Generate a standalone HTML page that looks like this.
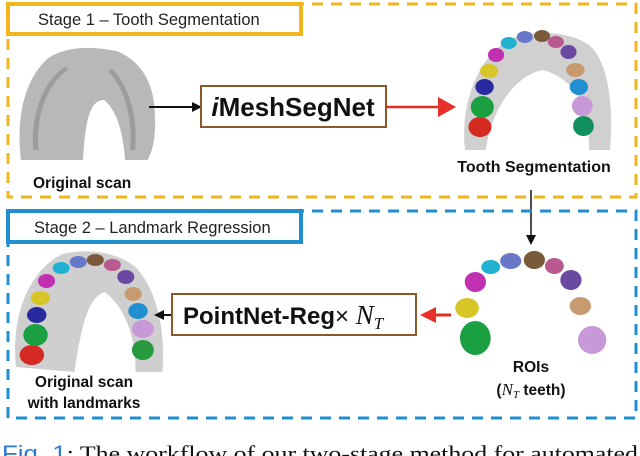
<!DOCTYPE html>
<html><head><style>
body{margin:0;background:#fff;width:640px;height:456px;overflow:hidden}
svg{display:block}
</style></head><body>
<svg width="640" height="456" viewBox="0 0 640 456" xmlns="http://www.w3.org/2000/svg">
<!-- Stage 1 -->
<rect x="8" y="4" width="628" height="193" fill="none" stroke="#f2b61d" stroke-width="3" stroke-dasharray="11,8"/>
<rect x="8" y="4" width="293" height="30" fill="#fff" stroke="#f2b61d" stroke-width="4"/>
<text x="38" y="25" font-family="Liberation Sans, sans-serif" font-size="16.5" fill="#222">Stage 1 – Tooth Segmentation</text>
<!-- Original scan arch -->
<g transform="translate(16,0) scale(1.24,1) translate(-14,0)">
<path d="M18,160 C14,120 20,80 40,58 C55,46 75,46 95,51 C110,58 122,75 125,100 C128,130 125,150 120,160 L102,160 C100,130 95,110 85,100 C75,100 70,115 68,160 Z" fill="#b8b8b8"/>
<path d="M30,150 C28,120 35,85 55,68 M108,150 C110,120 105,90 90,70" stroke="#888" stroke-width="4" fill="none" opacity=".6"/>
</g>
<text x="33" y="188" font-family="Liberation Sans, sans-serif" font-weight="bold" font-size="15.5" fill="#111">Original scan</text>
<line x1="149" y1="107" x2="194" y2="107" stroke="#111" stroke-width="2"/>
<polygon points="202,107 192,102 192,112" fill="#111"/>
<rect x="201" y="86" width="185" height="41" fill="#fff" stroke="#8b5a2b" stroke-width="2"/>
<text x="293" y="116" text-anchor="middle" font-family="Liberation Sans, sans-serif" font-weight="bold" font-size="26" fill="#111"><tspan font-style="italic">i</tspan>MeshSegNet</text>
<line x1="386" y1="107" x2="440" y2="107" stroke="#e03020" stroke-width="2.5"/>
<polygon points="456,107 438,97 438,117" fill="#e8302a"/>
<!-- Tooth segmentation -->
<g transform="translate(465,0) scale(1.15,1) translate(-382,0)">
<path d="M382,150 C378,110 390,60 420,40 C440,30 470,30 490,45 C505,60 512,100 508,150 L490,150 C490,110 480,80 450,70 C425,75 405,110 400,150 Z" fill="#d0d0d0"/>
<ellipse cx="395" cy="127" rx="10" ry="10" fill="#d42a22"/>
<ellipse cx="397" cy="107" rx="10" ry="11" fill="#1aa040"/>
<ellipse cx="399" cy="87" rx="8" ry="8" fill="#2a2aa0"/>
<ellipse cx="403" cy="71" rx="8" ry="7" fill="#d8c628"/>
<ellipse cx="409" cy="55" rx="7" ry="7" fill="#c030b0"/>
<ellipse cx="420" cy="43" rx="7" ry="6" fill="#20b0d0"/>
<ellipse cx="434" cy="37" rx="7" ry="6" fill="#6878c8"/>
<ellipse cx="449" cy="36" rx="7" ry="6" fill="#7a5a3a"/>
<ellipse cx="461" cy="42" rx="7" ry="6" fill="#b85a90"/>
<ellipse cx="472" cy="52" rx="7" ry="7" fill="#6a4aa0"/>
<ellipse cx="478" cy="70" rx="8" ry="7" fill="#c89a70"/>
<ellipse cx="481" cy="87" rx="8" ry="8" fill="#2090d0"/>
<ellipse cx="484" cy="106" rx="9" ry="10" fill="#c898d8"/>
<ellipse cx="485" cy="126" rx="9" ry="10" fill="#109060"/>
</g>
<text x="534" y="172" text-anchor="middle" font-family="Liberation Sans, sans-serif" font-weight="bold" font-size="16" fill="#111">Tooth Segmentation</text>
<!-- down arrow -->
<line x1="531" y1="190" x2="531" y2="237" stroke="#111" stroke-width="1.5"/>
<polygon points="531,245 526,235 536,235" fill="#111"/>
<!-- Stage 2 -->
<rect x="8" y="211" width="628" height="207" fill="none" stroke="#1f8fd0" stroke-width="3" stroke-dasharray="11,8"/>
<rect x="8" y="211" width="293" height="31" fill="#fff" stroke="#1f8fd0" stroke-width="4"/>
<text x="34" y="233" font-family="Liberation Sans, sans-serif" font-size="16.5" fill="#222">Stage 2 – Landmark Regression</text>
<!-- landmarks scan -->
<g transform="translate(16,2) scale(1.22,1) translate(-12,0)">
<path d="M12,365 C8,320 20,270 50,252 C70,246 95,250 110,265 C125,285 135,320 132,370 L110,370 C110,330 100,305 85,290 C70,295 65,330 60,370 Z" fill="#cfcfcf"/>
<ellipse cx="25" cy="353" rx="10" ry="10" fill="#d42a22"/>
<ellipse cx="28" cy="333" rx="10" ry="11" fill="#1aa040"/>
<ellipse cx="29" cy="313" rx="8" ry="8" fill="#2a2aa0"/>
<ellipse cx="32" cy="296" rx="8" ry="7" fill="#d8c628"/>
<ellipse cx="37" cy="279" rx="7" ry="7" fill="#c030b0"/>
<ellipse cx="49" cy="266" rx="7" ry="6" fill="#20b0d0"/>
<ellipse cx="63" cy="260" rx="7" ry="6" fill="#6878c8"/>
<ellipse cx="77" cy="258" rx="7" ry="6" fill="#7a5a3a"/>
<ellipse cx="91" cy="263" rx="7" ry="6" fill="#b85a90"/>
<ellipse cx="102" cy="275" rx="7" ry="7" fill="#6a4aa0"/>
<ellipse cx="108" cy="292" rx="7" ry="7" fill="#c89a70"/>
<ellipse cx="112" cy="309" rx="8" ry="8" fill="#2090d0"/>
<ellipse cx="116" cy="327" rx="9" ry="9" fill="#c898d8"/>
<ellipse cx="116" cy="348" rx="9" ry="10" fill="#2a9a40"/>
</g>
<text x="84" y="387" text-anchor="middle" font-family="Liberation Sans, sans-serif" font-weight="bold" font-size="15.5" fill="#111">Original scan</text>
<text x="84" y="408" text-anchor="middle" font-family="Liberation Sans, sans-serif" font-weight="bold" font-size="15.5" fill="#111">with landmarks</text>
<line x1="172" y1="315" x2="162" y2="315" stroke="#111" stroke-width="2"/>
<polygon points="154,315 164,310 164,320" fill="#111"/>
<rect x="172" y="294" width="244" height="41" fill="#fff" stroke="#8b5a2b" stroke-width="2"/>
<text x="183" y="324" font-family="Liberation Sans, sans-serif" font-weight="bold" font-size="24" fill="#111">PointNet-Reg<tspan font-weight="normal">× </tspan><tspan font-family="Liberation Serif, serif" font-style="italic" font-weight="normal" font-size="27">N</tspan><tspan font-family="Liberation Serif, serif" font-style="italic" font-weight="normal" font-size="17" dy="5">T</tspan></text>
<line x1="451" y1="315" x2="434" y2="315" stroke="#e03020" stroke-width="3"/>
<polygon points="420,315 436,307 436,323" fill="#e8302a"/>
<!-- ROIs -->
<g transform="translate(460,10) scale(1.18,1) translate(-470,0)">
<ellipse cx="483" cy="328" rx="13" ry="17" fill="#1aa040"/>
<ellipse cx="476" cy="298" rx="10" ry="10" fill="#d8c628"/>
<ellipse cx="483" cy="272" rx="9" ry="10" fill="#c030b0"/>
<ellipse cx="496" cy="257" rx="8" ry="7" fill="#20b0d0"/>
<ellipse cx="513" cy="251" rx="9" ry="8" fill="#6878c8"/>
<ellipse cx="533" cy="250" rx="9" ry="9" fill="#7a5a3a"/>
<ellipse cx="550" cy="256" rx="8" ry="8" fill="#b85a90"/>
<ellipse cx="564" cy="270" rx="9" ry="10" fill="#6a4aa0"/>
<ellipse cx="572" cy="296" rx="9" ry="9" fill="#c89a70"/>
<ellipse cx="582" cy="330" rx="12" ry="14" fill="#c898d8"/>
</g>
<text x="531" y="372" text-anchor="middle" font-family="Liberation Sans, sans-serif" font-weight="bold" font-size="15.5" fill="#111">ROIs</text>
<text x="531" y="395" text-anchor="middle" font-family="Liberation Sans, sans-serif" font-weight="bold" font-size="15.5" fill="#111">(<tspan font-family="Liberation Serif, serif" font-style="italic" font-weight="normal" font-size="17">N</tspan><tspan font-family="Liberation Serif, serif" font-style="italic" font-weight="normal" font-size="11" dy="3">T</tspan><tspan dy="-3"> teeth)</tspan></text>
<!-- caption -->
<text x="2" y="461" textLength="636" lengthAdjust="spacingAndGlyphs" font-family="Liberation Serif, serif" font-size="22" fill="#111"><tspan fill="#2a7ad0" font-family="Liberation Sans, sans-serif">Fig. 1</tspan>: The workflow of our two-stage method for automated</text>
</svg>
</body></html>
